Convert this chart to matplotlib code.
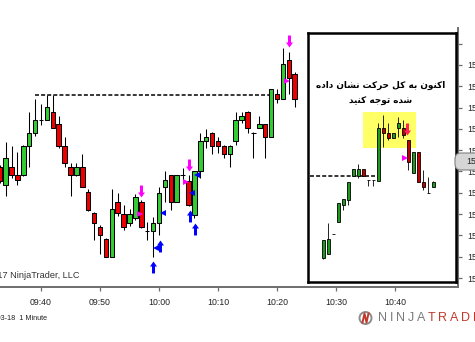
import numpy as np
import matplotlib
matplotlib.use('Agg')
import matplotlib.pyplot as plt
from matplotlib.path import Path
from matplotlib.patches import Rectangle, FancyBboxPatch, Circle

plt.rcParams['font.family'] = ['Liberation Sans', 'DejaVu Sans']

# main chart: 1 minute bars, time in minutes from 09:40 (09:33 .. 10:23)
bar_min = np.arange(-7, 44)
opens = [1540.4, 1538.7, 1540.4, 1539.7, 1539.7, 1542.4, 1543.6, 1544.8, 1544.8, 1545.6,
         1544.5, 1542.4, 1540.4, 1539.7, 1540.4, 1538.1, 1536.1, 1534.8, 1533.7, 1532.0,
         1537.1, 1536.0, 1535.2, 1535.6, 1537.1, 1534.4, 1534.4, 1535.2, 1538.5, 1539.7,
         1537.1, 1539.7, 1539.1, 1535.9, 1540.0, 1542.9, 1543.6, 1542.9, 1542.4, 1541.6,
         1542.9, 1544.8, 1545.6, 1543.6, 1544.1, 1544.5, 1543.2, 1547.3, 1546.8, 1550.5,
         1549.2]
highs = [1540.6, 1542.8, 1542.4, 1541.8, 1542.5, 1545.6, 1546.8, 1546.3, 1547.2, 1547.2,
         1545.2, 1543.2, 1540.8, 1540.8, 1541.6, 1538.4, 1536.2, 1535.0, 1533.8, 1538.4,
         1538.0, 1536.9, 1536.5, 1537.9, 1537.3, 1535.3, 1535.7, 1538.5, 1540.0, 1539.7,
         1539.7, 1540.3, 1539.7, 1540.0, 1543.6, 1544.0, 1543.7, 1543.2, 1542.5, 1542.5,
         1545.6, 1545.6, 1545.7, 1543.7, 1545.2, 1544.5, 1547.7, 1547.7, 1551.6, 1551.2,
         1549.3]
lows = [1538.9, 1537.7, 1539.4, 1538.7, 1539.6, 1540.4, 1543.3, 1544.4, 1544.8, 1544.1,
        1542.2, 1540.4, 1537.7, 1539.6, 1538.5, 1536.3, 1533.6, 1532.3, 1532.0, 1532.0,
        1535.8, 1534.5, 1534.9, 1535.4, 1534.7, 1533.6, 1532.0, 1534.0, 1537.1, 1536.4,
        1537.1, 1539.2, 1536.8, 1535.6, 1539.4, 1542.2, 1541.6, 1541.7, 1541.3, 1540.4,
        1542.5, 1544.6, 1543.6, 1541.3, 1544.1, 1541.3, 1543.2, 1546.4, 1546.8, 1547.3,
        1546.1]
closes = [1539.1, 1541.3, 1539.7, 1539.2, 1542.4, 1543.6, 1544.8, 1544.8, 1546.1, 1544.1,
          1542.4, 1540.8, 1539.7, 1540.4, 1538.5, 1536.4, 1535.2, 1534.0, 1532.0, 1536.5,
          1536.1, 1534.8, 1536.0, 1537.6, 1534.8, 1534.4, 1535.2, 1538.0, 1539.2, 1537.1,
          1539.7, 1539.7, 1536.9, 1540.0, 1542.9, 1543.2, 1542.4, 1542.4, 1541.6, 1542.4,
          1544.8, 1545.2, 1544.1, 1543.6, 1544.5, 1543.2, 1547.7, 1546.8, 1550.1, 1548.8,
          1546.8]

# resistance level (dashed) from 09:39 to 10:19
level_price = 1547.2
level_from, level_to = -1, 39

# signal markers
sell_t = [17, 25, 42]
sell_p = [1538.2, 1540.6, 1552.3]
buy_t = [19, 20.2, 25.2, 26.1]
buy_p = [1531.0, 1533.0, 1535.8, 1534.6]
pink_tri_t = [16.8, 24.6, 41.7]
pink_tri_p = [1536.0, 1539.0, 1548.5]
blue_tri_t = [19.5, 20.7, 25.6, 26.4]
blue_tri_p = [1532.8, 1536.1, 1538.0, 1539.7]

time_ticks = [0, 10, 20, 30, 40, 50, 60]
time_labels = ['09:40', '09:50', '10:00', '10:10', '10:20', '10:30', '10:40']
price_ticks = [1530, 1532, 1534, 1536, 1538, 1540, 1542, 1544, 1546, 1548, 1550, 1552]
last_price = 1540.9

# inset chart (later bars, own bar spacing)
ins_bar = np.arange(23)
ins_open = [1531.9, 1532.3, 1534.1, 1535.3, 1536.9, 1537.3, 1539.6, 1539.6, 1540.2, 1539.2,
            1539.2, 1539.1, 1544.1, 1543.6, 1543.1, 1544.1, 1544.1, 1543.0, 1539.9, 1541.8,
            1539.0, 1538.0, 1538.5]
ins_high = [1533.6, 1535.2, 1534.1, 1537.0, 1537.4, 1539.0, 1540.2, 1540.7, 1540.2, 1539.2,
            1539.2, 1544.6, 1545.3, 1544.6, 1543.6, 1545.1, 1544.8, 1543.0, 1541.8, 1541.8,
            1540.1, 1539.5, 1539.1]
ins_low = [1531.8, 1532.3, 1534.1, 1535.3, 1536.4, 1536.9, 1539.6, 1539.4, 1539.6, 1538.6,
           1538.6, 1539.1, 1542.3, 1543.0, 1543.1, 1543.2, 1543.1, 1540.1, 1539.9, 1539.0,
           1538.3, 1538.0, 1538.5]
ins_close = [1533.6, 1533.7, 1534.1, 1537.0, 1537.4, 1539.0, 1540.2, 1540.2, 1539.6, 1539.2,
             1539.2, 1544.1, 1543.6, 1543.1, 1543.6, 1544.6, 1543.4, 1540.9, 1541.8, 1539.0,
             1538.5, 1538.0, 1539.0]
ins_level = 1539.6
ins_level_from, ins_level_to = -2.6, 10.4
ins_sell_t, ins_sell_p = [16.8], [1544.0]
ins_tri_t, ins_tri_p = [16.4], [1541.3]

# Persian note, shaped by hand into presentation forms (logical order)
note_1 = ['\uFE8D\uFB90\uFEE8\uFEEE\uFEE5', '\uFE91\uFEEA', '\uFB90\uFEDE',
          '\uFEA3\uFEAE\uFB90\uFE96', '\uFEE7\uFEB8\uFE8E\uFEE5', '\uFEA9\uFE8D\uFEA9\uFEE9']
note_2 = ['\uFEB7\uFEAA\uFEE9', '\uFE97\uFEEE\uFE9F\uFEEA', '\uFB90\uFEE8\uFBFF\uFEAA']


def draw_bars(ax, x, o, h, l, c, width, up, down, lw):
    x = np.asarray(x, float)
    o, h, l, c = (np.asarray(v, float) for v in (o, h, l, c))
    ax.vlines(x, l, h, color='black', lw=lw, zorder=2)
    body = c - o
    flat = body == 0
    cols = np.where(body > 0, up, down)
    ax.bar(x[~flat], body[~flat], bottom=o[~flat], width=width, color=cols[~flat],
           edgecolor='black', linewidth=lw, zorder=3)
    ax.hlines(o[flat], x[flat] - width / 2, x[flat] + width / 2, color='black', lw=lw, zorder=3)


arrow_up = Path([(0, 6), (3.5, 1), (1.5, 1), (1.5, -6), (-1.5, -6), (-1.5, 1), (-3.5, 1), (0, 6)],
                closed=True)
arrow_dn = Path([(0, -6), (3.5, -1), (1.5, -1), (1.5, 6), (-1.5, 6), (-1.5, -1), (-3.5, -1), (0, -6)],
                closed=True)

fig = plt.figure(figsize=(4.75, 3.42), dpi=100)

ax = fig.add_axes([0, 55 / 342, 458 / 475, 259 / 342])
ax.set_xlim(-41 / 5.9, 417 / 5.9)
ax.set_ylim(1529.155, 1553.474)
draw_bars(ax, bar_min, opens, highs, lows, closes, 0.75, '#33cc33', '#ee0000', 0.75)
ax.hlines(level_price, level_from, level_to, color='black', lw=1.1,
          linestyle=(0, (2.6, 1.4)), zorder=1)

ax.plot(sell_t, sell_p, ls='none', marker=arrow_dn, ms=8.6, color='#ff00ff', mew=0, zorder=4)
ax.plot(buy_t, buy_p, ls='none', marker=arrow_up, ms=8.6, color='#0000ff', mew=0, zorder=4)
ax.plot(pink_tri_t, pink_tri_p, ls='none', marker='>', ms=4.5, color='#ff00ff', mew=0, zorder=4)
ax.plot(blue_tri_t, blue_tri_p, ls='none', marker='<', ms=4.5, color='#0000ff', mew=0, zorder=4)

ax.spines['top'].set_visible(False)
ax.spines['left'].set_visible(False)
for s in ('bottom', 'right'):
    ax.spines[s].set_color('#6e6e6e')
    ax.spines[s].set_linewidth(1.4)
ax.yaxis.tick_right()
ax.set_yticks(price_ticks)
ax.set_yticklabels([f'{p:.2f}' for p in price_ticks[:-1]] + [''])
ax.set_xticks(time_ticks)
ax.set_xticklabels(time_labels)
ax.tick_params(axis='x', length=3, width=0.9, color='#6e6e6e', labelsize=6.3, pad=5,
               labelcolor='#222222')
ax.tick_params(axis='y', length=3, width=0.9, color='#6e6e6e', labelsize=6.3, pad=4,
               labelcolor='#222222')

# inset
axi = fig.add_axes([308 / 475, 60 / 342, 148 / 475, 249 / 342])
axi.set_xlim(-3, 26.6)
axi.set_ylim(1529.624, 1553.006)
axi.set_xticks([])
axi.set_yticks([])
for s in axi.spines.values():
    s.set_linewidth(1.8)
    s.set_color('black')
axi.add_patch(Rectangle((8, 1542.2), 10.6, 3.4, facecolor='#ffff66', edgecolor='none', zorder=1))
draw_bars(axi, ins_bar, ins_open, ins_high, ins_low, ins_close, 0.6, '#1f9a1f', '#c00000', 0.6)
axi.hlines(ins_level, ins_level_from, ins_level_to, color='black', lw=1.1,
           linestyle=(0, (2.6, 1.4)), zorder=1)
axi.plot(ins_sell_t, ins_sell_p, ls='none', marker=arrow_dn, ms=8.6, color='#ff2255', mew=0, zorder=4)
axi.plot(ins_tri_t, ins_tri_p, ls='none', marker='>', ms=4.5, color='#ff00ff', mew=0, zorder=4)
axi.text(0.49, 0.791, ' '.join(note_1)[::-1], transform=axi.transAxes, ha='center', va='center',
         fontsize=6.4, fontweight='bold', family=['DejaVu Sans'])
axi.text(0.49, 0.727, ' '.join(note_2)[::-1], transform=axi.transAxes, ha='center', va='center',
         fontsize=6.4, fontweight='bold', family=['DejaVu Sans'])

# overlay in pixel coordinates for the screen decorations
ov = fig.add_axes([0, 0, 1, 1])
ov.set_xlim(0, 475)
ov.set_ylim(342, 0)
ov.axis('off')
ov.patch.set_alpha(0)

ov.add_patch(FancyBboxPatch((455, 153), 30, 17, boxstyle='round,pad=0,rounding_size=6',
                            facecolor='#d6d6d6', edgecolor='#808080', lw=0.8))
ov.text(466, 161.5, f'{last_price:.2f}', fontsize=6.3, va='center', ha='left', color='#222222')

ov.text(80, 275, '\u00a9 2017 NinjaTrader, LLC', fontsize=6.6, ha='right', va='center',
        color='#333333')
ov.text(47, 318, 'ES 03-18  1 Minute', fontsize=5.2, ha='right', va='center', color='#222222')

ov.add_patch(Circle((365.5, 318), 6, fill=False, edgecolor='#8c8c8c', lw=1.4))
ov.plot([362.5, 364.5, 366.5, 368.5], [322.5, 313.5, 322.5, 313.5], color='#c0392b', lw=1.4)
renderer = fig.canvas.get_renderer()
x0 = 378
for ch, col in zip('NINJATRADER', ['#7a7a7a'] * 5 + ['#c0392b'] * 6):
    t = ov.text(x0, 318, ch, fontsize=9, color=col, va='center', ha='left')
    x0 += t.get_window_extent(renderer).width + 2.8

fig.savefig('out.png', dpi=100)
